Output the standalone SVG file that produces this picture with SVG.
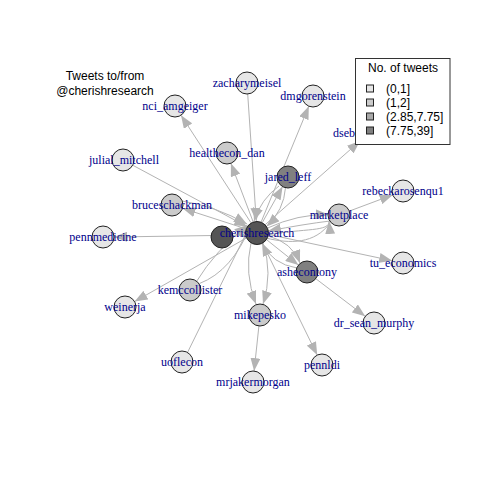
<svg xmlns="http://www.w3.org/2000/svg" width="480" height="480" viewBox="0 0 480 480">
<style>
.e{fill:none;stroke:#b3b3b3;stroke-width:1}
.n{stroke:#222;stroke-width:1}
.l0{fill:#e6e6e6}.l1{fill:#cbcbcb}.l2{fill:#808080}.l3{fill:#555555}
.lb{font-family:"Liberation Serif",serif;font-size:12px;fill:#00008b;text-anchor:middle}
.t{font-family:"Liberation Sans",Arial,sans-serif;font-size:12px;fill:#000}
</style>
<defs>
<marker id="a" markerUnits="userSpaceOnUse" markerWidth="14" markerHeight="10" refX="13" refY="5" orient="auto">
<path d="M0,0 L13,5 L0,10 Z" fill="#b3b3b3"/>
</marker>
</defs>
<rect width="480" height="480" fill="#fff"/>
<text class="t" x="105" y="80" text-anchor="middle">Tweets to/from</text>
<text class="t" x="105" y="95" text-anchor="middle">@cherishresearch</text>
<g id="edges" marker-end="url(#a)">
<path class="e" d="M251,222.8 L181,115.2"/>
<path class="e" d="M247.7,94 L256.3,221"/>
<path class="e" d="M261.2,221.8 L308.8,106.2"/>
<path class="e" d="M253.1,221.7 L230.9,163.3"/>
<path class="e" d="M262.4,222.4 L282.6,186.6"/>
<path class="e" d="M285.5,187.7 Q284,210 266.5,226.5"/>
<path class="e" d="M279,186 Q261,199 254,221"/>
<path class="e" d="M265.2,224.7 L360,141"/>
<path class="e" d="M132.7,165.2 L247.3,226.8"/>
<path class="e" d="M246.5,229 L182.5,208.3"/>
<path class="e" d="M182,201 Q215,206 247,224"/>
<path class="e" d="M246,235 L114,237"/>
<path class="e" d="M247.4,237.4 L134.6,301.6"/>
<path class="e" d="M199.5,283.5 Q232,271 250.5,226"/>
<path class="e" d="M196.5,281.5 Q215,251 247.5,225"/>
<path class="e" d="M187.5,352.5 L251.5,222.5"/>
<path class="e" d="M251,243 Q244,273 256,304"/>
<path class="e" d="M263,243 Q273,273 263,304"/>
<path class="e" d="M258.9,326 L254.1,371.1"/>
<path class="e" d="M261.8,241.9 L317.2,355.1"/>
<path class="e" d="M265.6,238.9 L298.4,265.1"/>
<path class="e" d="M268,236 Q292,242 300,263"/>
<path class="e" d="M297,268 Q272,264 262,243"/>
<path class="e" d="M315.8,278.7 L365.2,316.3"/>
<path class="e" d="M267.8,234.3 L392.2,260.7"/>
<path class="e" d="M349.3,211.1 L392.7,194.9"/>
<path class="e" d="M267.5,228 Q298,214 328.5,214.5"/>
<path class="e" d="M330,221 Q305,224 268,231"/>
<path class="e" d="M267,235 C305,228 330,232 329,221"/>
<path class="e" d="M266,238 C290,244 315,244 330,223" marker-end="none"/>
</g>
<g id="nci_amgeiger"><circle class="n l0" cx="175" cy="106" r="11"/><text class="lb" x="175" y="110">nci_amgeiger</text></g>
<g id="zacharymeisel"><circle class="n l0" cx="247" cy="83" r="11"/><text class="lb" x="247" y="87">zacharymeisel</text></g>
<g id="dmgorenstein"><circle class="n l0" cx="313" cy="96" r="11"/><text class="lb" x="313" y="100">dmgorenstein</text></g>
<g id="healthecon_dan"><circle class="n l1" cx="227" cy="153" r="11"/><text class="lb" x="227" y="157">healthecon_dan</text></g>
<g id="jared_leff"><circle class="n l2" cx="288" cy="177" r="11"/><text class="lb" x="288" y="181">jared_leff</text></g>
<g id="julial_mitchell"><circle class="n l0" cx="123" cy="160" r="11"/><text class="lb" x="124" y="164">julial_mitchell</text></g>
<g id="bruceschackman"><circle class="n l1" cx="172" cy="205" r="11"/><text class="lb" x="172" y="209">bruceschackman</text></g>
<g id="pennmedicine"><circle class="n l0" cx="103" cy="237" r="11"/><text class="lb" x="103" y="241">pennmedicine</text></g>
<g id="node_left"><circle class="n l3" cx="222" cy="237" r="11"/></g>
<g id="cherishresearch"><circle class="n l3" cx="257" cy="233" r="11.5"/><text class="lb" x="257" y="237">cherishresearch</text></g>
<g id="marketplace"><circle class="n l1" cx="339" cy="215" r="11"/><text class="lb" x="339" y="219">marketplace</text></g>
<g id="rebeckarosenqu1"><circle class="n l0" cx="403" cy="191" r="11"/><text class="lb" x="403" y="195">rebeckarosenqu1</text></g>
<g id="tu_economics"><circle class="n l0" cx="403" cy="263" r="11"/><text class="lb" x="403" y="267">tu_economics</text></g>
<g id="ashecontony"><circle class="n l2" cx="307" cy="272" r="11"/><text class="lb" x="307" y="276">ashecontony</text></g>
<g id="dr_sean_murphy"><circle class="n l0" cx="374" cy="323" r="11"/><text class="lb" x="374" y="327">dr_sean_murphy</text></g>
<g id="kemccollister"><circle class="n l1" cx="190" cy="290" r="11"/><text class="lb" x="190" y="294">kemccollister</text></g>
<g id="weinerja"><circle class="n l0" cx="125" cy="307" r="11"/><text class="lb" x="125" y="311">weinerja</text></g>
<g id="mikepesko"><circle class="n l1" cx="260" cy="315" r="11"/><text class="lb" x="260" y="319">mikepesko</text></g>
<g id="uoflecon"><circle class="n l0" cx="182" cy="362" r="11"/><text class="lb" x="182" y="366">uoflecon</text></g>
<g id="pennldi"><circle class="n l0" cx="322" cy="365" r="11"/><text class="lb" x="322" y="369">pennldi</text></g>
<g id="mrjakermorgan"><circle class="n l0" cx="253" cy="382" r="11"/><text class="lb" x="253" y="386">mrjakermorgan</text></g>
<g id="dseb"><text class="lb" x="333" y="137" text-anchor="start" style="text-anchor:start">dseb</text></g>
<g id="legend">
<rect x="355.5" y="58.5" width="94.5" height="86" fill="#fff" stroke="#333" stroke-width="1"/>
<text class="t" x="403" y="72" text-anchor="middle">No. of tweets</text>
<rect x="366.5" y="85" width="7" height="7" fill="#e6e6e6" stroke="#222"/>
<rect x="366.5" y="99" width="7" height="7" fill="#cbcbcb" stroke="#222"/>
<rect x="366.5" y="113" width="7" height="7" fill="#a8a8a8" stroke="#222"/>
<rect x="366.5" y="127" width="7" height="7" fill="#808080" stroke="#222"/>
<text class="t" x="386" y="93">(0,1]</text>
<text class="t" x="386" y="107">(1,2]</text>
<text class="t" x="386" y="121">(2.85,7.75]</text>
<text class="t" x="386" y="135">(7.75,39]</text>
</g>
</svg>
